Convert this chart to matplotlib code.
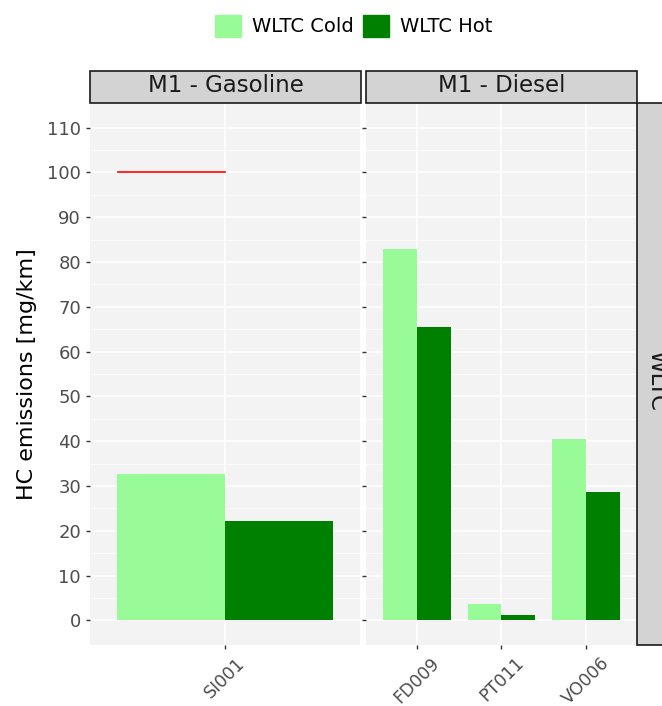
import matplotlib.pyplot as plt
from matplotlib.patches import Patch, Rectangle
import numpy as np

# data
gas_vehicles = ["SI001"]
gas_cold = [32.7]
gas_hot = [22.2]
diesel_vehicles = ["FD009", "PT011", "VO006"]
diesel_cold = [83.0, 3.7, 40.5]
diesel_hot = [65.6, 1.1, 28.6]
limit_value = 100

c_cold = "#98FB98"
c_hot = "#008000"
W, H = 662, 706

fig = plt.figure(figsize=(W / 100, H / 100), dpi=100)


def fx(px):
    return px / W


def fy(py):
    return 1 - py / H


def panel(x0, x1, names, cold, hot, bw):
    ax = fig.add_axes([fx(x0), fy(645), fx(x1 - x0), fy(103) - fy(645)])
    ax.set_facecolor("#F3F3F3")
    x = np.arange(len(names))
    ax.bar(x - bw / 2, cold, width=bw, color=c_cold, zorder=3)
    ax.bar(x + bw / 2, hot, width=bw, color=c_hot, zorder=3)
    ax.set_xlim(-0.6, len(names) - 0.4)
    ax.set_ylim(-5.5, 115.5)
    ax.set_yticks(np.arange(0, 111, 10))
    ax.set_yticks(np.arange(5, 111, 10), minor=True)
    ax.set_xticks(x)
    ax.set_xticklabels(names, rotation=45, ha="center", va="top",
                       fontsize=12.5, color="#4D4D4D")
    ax.grid(True, which="major", color="white", lw=1.1, zorder=0)
    ax.grid(True, which="minor", axis="y", color="white", lw=0.5, zorder=0)
    ax.tick_params(which="minor", length=0)
    ax.tick_params(which="major", length=3, color="#333333", width=1)
    for s in ax.spines.values():
        s.set_visible(False)
    ax.set_axisbelow(True)
    return ax


ax1 = panel(90, 360, gas_vehicles, gas_cold, gas_hot, 0.478)
ax1.set_yticklabels([str(v) for v in range(0, 111, 10)], fontsize=13, color="#4D4D4D")
ax1.plot([-0.477, 0], [limit_value, limit_value], color="red", lw=1.2, zorder=4)
ax1.set_ylabel("HC emissions [mg/km]", fontsize=16, labelpad=7)

ax2 = panel(366, 637, diesel_vehicles, diesel_cold, diesel_hot, 0.4)
ax2.set_yticklabels([])

# facet strips
for (x0, x1), label in [((90, 361), "M1 - Gasoline"), ((366, 637), "M1 - Diesel")]:
    fig.patches.append(Rectangle((fx(x0), fy(103)), fx(x1 - x0), fy(71) - fy(103),
                                 transform=fig.transFigure, facecolor="#D3D3D3",
                                 edgecolor="#1A1A1A", lw=1.2))
    fig.text(fx((x0 + x1) / 2), fy(86), label, ha="center", va="center",
             fontsize=16.5, color="#1A1A1A")

fig.patches.append(Rectangle((fx(637), fy(645)), fx(40), fy(103) - fy(645),
                             transform=fig.transFigure, facecolor="#D3D3D3",
                             edgecolor="#1A1A1A", lw=1.2))
fig.text(fx(657), fy(380), "WLTC", rotation=-90, ha="center", va="center",
         fontsize=16.5, color="#1A1A1A")

handles = [Patch(color=c_cold, label="WLTC Cold"), Patch(color=c_hot, label="WLTC Hot")]
fig.legend(handles=handles, loc="center", bbox_to_anchor=(fx(354), fy(26)), ncol=2,
           frameon=False, fontsize=14, handlelength=1.34, handleheight=1.34,
           handletextpad=0.57, columnspacing=0.46, borderaxespad=0, borderpad=0)

fig.savefig("out.png", dpi=100)
